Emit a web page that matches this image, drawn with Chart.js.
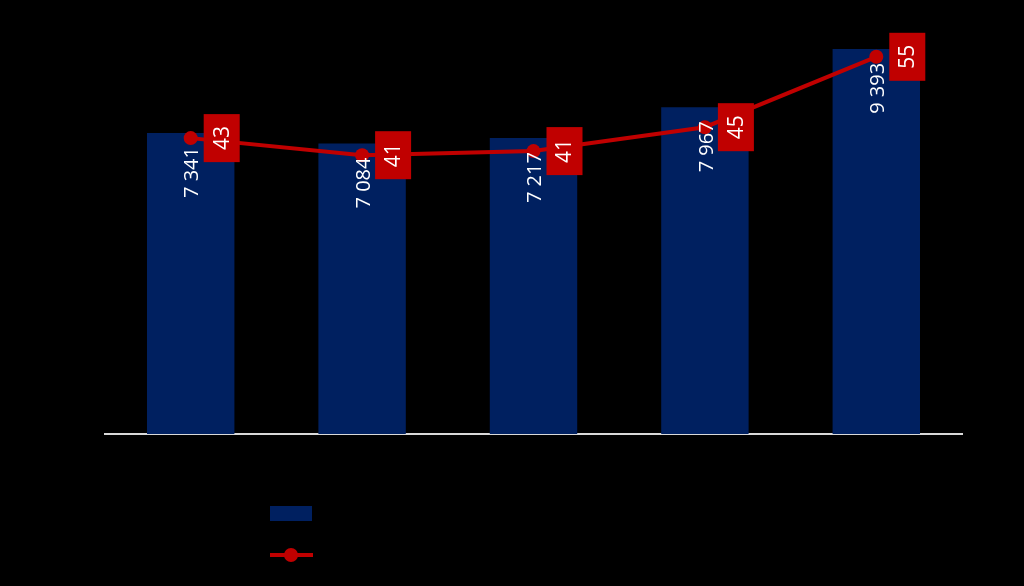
<!DOCTYPE html>
<html>
<head>
<meta charset="utf-8">
<script src="https://cdn.jsdelivr.net/npm/chart.js@4/dist/chart.umd.min.js"></script>
<style>
  html, body { margin: 0; padding: 0; background: #000; }
  #wrap { width: 1024px; height: 586px; }
</style>
</head>
<body>
<div id="wrap"><canvas id="chart"></canvas></div>
<script>
const categories = ['1', '2', '3', '4', '5'];
const barValues = [7341, 7084, 7217, 7967, 9393];
const lineValues = [43.3, 40.8, 41.4, 44.9, 55.2];

const BAR_COLOR = '#002060';
const LINE_COLOR = '#C00000';

function fmt(n) {
    return String(n).replace(/\B(?=(\d{3})+(?!\d))/g, ' ');
}

// labels inside the bars and red boxes next to the line points
const labelsPlugin = {
    id: 'labels',
    afterDatasetsDraw(chart) {
        const ctx = chart.ctx;
        const bars = chart.getDatasetMeta(0).data;
        const pts = chart.getDatasetMeta(1).data;
        ctx.save();
        ctx.fillStyle = '#fff';
        ctx.font = '20px "Open Sans", sans-serif';
        ctx.textAlign = 'right';
        ctx.textBaseline = 'middle';
        bars.forEach((b, i) => {
            ctx.save();
            ctx.translate(b.x + 2, b.y + 14);
            ctx.rotate(-Math.PI / 2);
            ctx.fillText(fmt(barValues[i]), 0, 0);
            ctx.restore();
        });
        ctx.font = '21px "Open Sans", sans-serif';
        ctx.textAlign = 'center';
        pts.forEach((p, i) => {
            const cx = p.x + 31, cy = p.y;
            ctx.fillStyle = LINE_COLOR;
            ctx.fillRect(cx - 18, cy - 24, 36, 48);
            ctx.save();
            ctx.translate(cx + 1, cy);
            ctx.rotate(-Math.PI / 2);
            ctx.fillStyle = '#fff';
            ctx.fillText(String(Math.round(lineValues[i])), 0, 0);
            ctx.restore();
        });
        ctx.restore();
    }
};

// legend: swatches only, stacked vertically
const legendPlugin = {
    id: 'sideLegend',
    afterDraw(chart) {
        const ctx = chart.ctx;
        ctx.save();
        ctx.fillStyle = BAR_COLOR;
        ctx.fillRect(270, 506, 42, 15);
        ctx.strokeStyle = LINE_COLOR;
        ctx.lineWidth = 4;
        ctx.beginPath();
        ctx.moveTo(270, 555);
        ctx.lineTo(313, 555);
        ctx.stroke();
        ctx.fillStyle = LINE_COLOR;
        ctx.beginPath();
        ctx.arc(291, 555, 7, 0, Math.PI * 2);
        ctx.fill();
        ctx.restore();
    }
};

new Chart(document.getElementById('chart').getContext('2d'), {
    type: 'bar',
    data: {
        labels: categories,
        datasets: [
            { type: 'bar', data: barValues, backgroundColor: BAR_COLOR, yAxisID: 'y',
              categoryPercentage: 1, barPercentage: 0.51, order: 2 },
            { type: 'line', data: lineValues, borderColor: LINE_COLOR, borderWidth: 4,
              pointRadius: 7, pointBackgroundColor: LINE_COLOR, pointBorderWidth: 0,
              tension: 0, yAxisID: 'y2', order: 1 }
        ]
    },
    options: {
        responsive: true,
        maintainAspectRatio: false,
        animation: false,
        layout: { padding: { left: 105, right: 62, top: 24, bottom: 152 } },
        plugins: { legend: { display: false }, tooltip: { enabled: false } },
        scales: {
            x: {
                grid: { display: false, drawTicks: false },
                ticks: { display: false },
                border: { display: true, color: '#d9d9d9', width: 2 }
            },
            y: { display: false, min: 0, max: 10000 },
            y2: { display: false, min: 0, max: 60 }
        }
    },
    plugins: [labelsPlugin, legendPlugin]
});
</script>
</body>
</html>
